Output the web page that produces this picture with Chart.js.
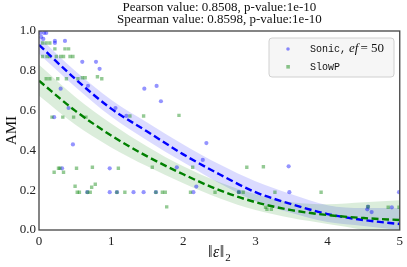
<!DOCTYPE html>
<html>
<head>
<meta charset="utf-8">
<script src="https://cdn.jsdelivr.net/npm/chart.js@4"></script>
<style>
  html, body { margin: 0; padding: 0; background: #fff; }
  #wrap { width: 407px; height: 267px; }
</style>
</head>
<body>
<div id="wrap"><canvas id="chart" width="407" height="267"></canvas></div>
<script>
// scatter values
const sonicX = [0.02, 0.07, 0.10, 0.03, 0.06, 0.22, 0.22, 0.36, 0.60, 0.79, 0.84, 0.30, 0.68,
  1.06, 1.21, 0.21, 0.41, 0.47, 0.32, 0.98, 0.67, 0.98, 1.08, 1.31, 1.45, 1.62, 2.14, 2.77,
  1.46, 1.63, 1.69, 2.32, 2.27, 1.91, 2.18, 3.46, 3.47, 4.99, 4.56, 4.55, 4.61, 4.89];
const sonicY = [0.99, 0.99, 0.99, 0.97, 0.96, 0.95, 0.94, 0.95, 0.845, 0.845, 0.81, 0.71, 0.725,
  0.613, 0.573, 0.567, 0.613, 0.43, 0.31, 0.31, 0.19, 0.19, 0.19, 0.19, 0.19, 0.19, 0.19, 0.19,
  0.71, 0.724, 0.647, 0.437, 0.352, 0.315, 0.218, 0.32, 0.19, 0.19, 0.117, 0.104, 0.09, 0.114];

const slowpX = [0.05, 0.10, 0.15, 0.22, 0.36, 0.41,
  0.05, 0.11, 0.15, 0.24, 0.30, 0.34, 0.43, 0.47,
  0.10, 0.15, 0.26, 0.38, 0.54, 0.60, 0.64, 0.81, 0.87,
  0.18, 0.33, 0.48, 0.65,
  0.21, 0.27, 0.29, 0.34, 0.52, 0.74, 1.10,
  0.50, 0.73, 0.78,
  0.53, 0.56, 0.67, 0.71, 1.08, 1.19,
  1.26, 1.45, 1.94, 1.57, 2.13, 2.88,
  1.62, 1.71, 1.75, 2.10, 2.44, 2.77, 2.83, 1.77,
  3.11, 3.27, 3.91, 3.14, 3.16, 3.22, 4.56, 4.84, 4.99];
const slowpY = [0.94, 0.94, 0.94, 0.91, 0.91, 0.91,
  0.872, 0.872, 0.872, 0.872, 0.872, 0.872, 0.872, 0.872,
  0.76, 0.76, 0.76, 0.76, 0.76, 0.765, 0.765, 0.77, 0.76,
  0.567, 0.567, 0.567, 0.567,
  0.29, 0.31, 0.31, 0.29, 0.31, 0.315, 0.31,
  0.22, 0.215, 0.23,
  0.19, 0.19, 0.19, 0.19, 0.19, 0.19,
  0.573, 0.573, 0.576, 0.315, 0.315, 0.315,
  0.19, 0.19, 0.19, 0.19, 0.19, 0.19, 0.19, 0.116,
  0.318, 0.19, 0.19, 0.114, 0.104, 0.104, 0.117, 0.114, 0.114];

// fitted curves and confidence bands, read at these x positions
const fitX = [0, 0.5, 1, 1.5, 2, 2.5, 3, 3.5, 4, 4.5, 5];
const sonicFit   = [0.93, 0.76, 0.61, 0.495, 0.38, 0.28, 0.19, 0.13, 0.08, 0.05, 0.03];
const sonicUpper = [0.97, 0.80, 0.655, 0.54, 0.43, 0.33, 0.245, 0.18, 0.125, 0.11, 0.11];
const sonicLower = [0.885, 0.72, 0.57, 0.45, 0.34, 0.235, 0.145, 0.085, 0.04, 0.02, 0.0];
const slowpFit   = [0.75, 0.60, 0.475, 0.37, 0.28, 0.20, 0.14, 0.10, 0.075, 0.06, 0.05];
const slowpUpper = [0.83, 0.67, 0.535, 0.42, 0.32, 0.24, 0.18, 0.14, 0.13, 0.14, 0.15];
const slowpLower = [0.675, 0.53, 0.415, 0.32, 0.235, 0.16, 0.10, 0.06, 0.03, 0.0, -0.04];

const xTicks = [0, 1, 2, 3, 4, 5];
const yTicks = [0, 0.2, 0.4, 0.6, 0.8, 1.0];
const titleLines = ['Pearson value: 0.8508, p-value:1e-10', 'Spearman value: 0.8598, p-value:1e-10'];

const serif = '"Liberation Serif", "DejaVu Serif", serif';

function pts(xs, ys) {
  return xs.map((x, i) => ({ x: x, y: ys[i] }));
}

function curve(ys, extra) {
  return Object.assign({
    type: 'line',
    data: pts(fitX, ys),
    pointRadius: 0,
    cubicInterpolationMode: 'monotone',
    borderWidth: 0
  }, extra);
}

// frame, title, axis titles and the legend box
const decor = {
  id: 'decor',
  afterDraw(chart) {
    const ctx = chart.ctx;
    const a = chart.chartArea;
    ctx.save();
    ctx.strokeStyle = '#444';
    ctx.lineWidth = 1.3;
    ctx.strokeRect(a.left, a.top, a.right - a.left, a.bottom - a.top);

    const cx = (a.left + a.right) / 2;
    ctx.fillStyle = '#111';
    ctx.textAlign = 'center';
    ctx.textBaseline = 'middle';
    ctx.font = '13px ' + serif;
    ctx.fillText(titleLines[0], cx, 8);
    ctx.fillText(titleLines[1], cx, 20);

    // y title
    ctx.save();
    ctx.translate(12, (a.top + a.bottom) / 2);
    ctx.rotate(-Math.PI / 2);
    ctx.font = '15px ' + serif;
    ctx.fillText('AMI', 0, 0);
    ctx.restore();

    // x title  ‖ε‖₂
    ctx.textAlign = 'left';
    ctx.font = '16px ' + serif;
    const w1 = ctx.measureText('\u2016').width;
    ctx.font = 'italic 16px ' + serif;
    const w2 = ctx.measureText('\u03b5').width;
    ctx.font = '11px ' + serif;
    const w3 = ctx.measureText('2').width;
    let x = cx - (w1 * 2 + w2 + w3 + 2) / 2;
    const y = 253;
    ctx.font = '16px ' + serif;
    ctx.fillText('\u2016', x, y); x += w1 + 0.5;
    ctx.font = 'italic 16px ' + serif;
    ctx.fillText('\u03b5', x, y); x += w2 + 0.5;
    ctx.font = '16px ' + serif;
    ctx.fillText('\u2016', x, y); x += w1 + 1;
    ctx.font = '11px ' + serif;
    ctx.fillText('2', x, y + 5);

    // legend
    const lx = 269, ly = 38, lw = 125, lh = 39;
    ctx.beginPath();
    ctx.roundRect(lx, ly, lw, lh, 3);
    ctx.fillStyle = 'rgba(245,245,245,0.85)';
    ctx.fill();
    ctx.strokeStyle = '#d0d0d0';
    ctx.lineWidth = 1;
    ctx.stroke();

    ctx.fillStyle = 'rgba(0,0,255,0.45)';
    ctx.beginPath();
    ctx.arc(288, 49, 1.8, 0, Math.PI * 2);
    ctx.fill();
    ctx.fillStyle = 'rgba(0,128,0,0.45)';
    ctx.fillRect(286.3, 65, 3.6, 3.6);

    ctx.fillStyle = '#111';
    ctx.font = '10px "Liberation Mono", "DejaVu Sans Mono", monospace';
    ctx.fillText('Sonic,', 310, 49);
    ctx.fillText('SlowP', 310, 67);
    let tx = 310 + ctx.measureText('Sonic,').width + 3;
    ctx.font = 'italic 13px ' + serif;
    ctx.fillText('ef', tx, 49);
    tx += ctx.measureText('ef').width + 2;
    ctx.font = '13px ' + serif;
    ctx.fillText('= 50', tx, 49);
    ctx.restore();
  }
};

new Chart(document.getElementById('chart'), {
  data: {
    datasets: [
      curve(sonicUpper, { fill: '+1', backgroundColor: 'rgba(0,0,255,0.14)', order: 9 }),
      curve(sonicLower, { fill: false, order: 9 }),
      curve(slowpUpper, { fill: '+1', backgroundColor: 'rgba(0,128,0,0.14)', order: 8 }),
      curve(slowpLower, { fill: false, order: 8 }),
      {
        type: 'scatter',
        data: pts(sonicX, sonicY),
        pointStyle: 'circle',
        pointRadius: 2.1,
        pointBorderWidth: 0,
        backgroundColor: 'rgba(0,0,255,0.42)',
        order: 7
      },
      {
        type: 'scatter',
        data: pts(slowpX, slowpY),
        pointStyle: 'rect',
        pointRadius: 2.4,
        pointBorderWidth: 0,
        backgroundColor: 'rgba(0,128,0,0.42)',
        order: 6
      },
      curve(sonicFit, { borderColor: '#0000ff', borderWidth: 2.4, borderDash: [7, 3.5], fill: false, order: 3 }),
      curve(slowpFit, { borderColor: '#008000', borderWidth: 2.4, borderDash: [7, 3.5], fill: false, order: 2 })
    ]
  },
  options: {
    responsive: false,
    animation: false,
    layout: { padding: { top: 31, right: 7, left: 0, bottom: 0 } },
    plugins: { legend: { display: false }, tooltip: { enabled: false } },
    scales: {
      x: {
        type: 'linear', min: 0, max: 5,
        afterBuildTicks: s => { s.ticks = xTicks.map(v => ({ value: v })); },
        afterFit: s => { s.height = 37; },
        grid: { display: false, drawTicks: false },
        border: { display: false },
        ticks: { padding: 4, color: '#222', font: { family: serif, size: 13 }, maxRotation: 0 }
      },
      y: {
        type: 'linear', min: 0, max: 1,
        afterBuildTicks: s => { s.ticks = yTicks.map(v => ({ value: v })); },
        afterFit: s => { s.width = 39; },
        grid: { display: false, drawTicks: false },
        border: { display: false },
        ticks: { padding: 3, color: '#222', font: { family: serif, size: 13 }, callback: v => v.toFixed(1) }
      }
    }
  },
  plugins: [decor]
});
</script>
</body>
</html>
